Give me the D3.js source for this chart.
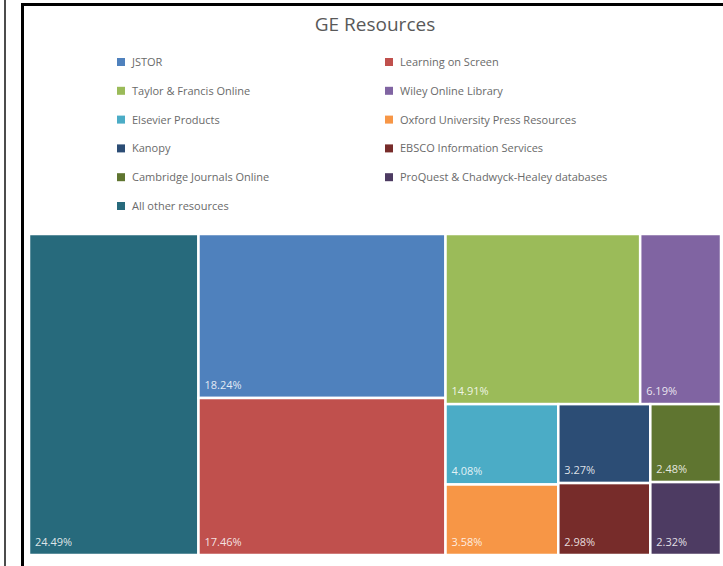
<!DOCTYPE html>
<html lang="en">
<head>
    <meta charset="UTF-8">
    <title>GE Resources</title>
    <style>
        body { margin: 0; background: #fff; }
        text { font-family: "Open Sans", sans-serif; }
    </style>
</head>
<body>
    <div id="chart"></div>
<script src="https://d3js.org/d3.v7.min.js"></script>
<script>
    // legend order (row by row, two columns)
    var categories = [
        "JSTOR", "Learning on Screen",
        "Taylor & Francis Online", "Wiley Online Library",
        "Elsevier Products", "Oxford University Press Resources",
        "Kanopy", "EBSCO Information Services",
        "Cambridge Journals Online", "ProQuest & Chadwyck-Healey databases",
        "All other resources"
    ];
    var shares = [18.24, 17.46, 14.91, 6.19, 4.08, 3.58, 3.27, 2.98, 2.48, 2.32, 24.49];
    var palette = ["#4f81bd", "#c0504d", "#9bbb59", "#8064a2", "#4bacc6", "#f79646",
        "#2c4d75", "#772c2a", "#5f7530", "#4d3b62", "#276a7c"];

    var W = 723, H = 566;
    var svg = d3.select("#chart").append("svg")
        .attr("width", W)
        .attr("height", H);

    // frame lines of the screenshot
    svg.append("line").attr("x1", 5).attr("x2", 5).attr("y1", 0).attr("y2", H)
        .attr("stroke", "#111").attr("stroke-width", 1.5);
    svg.append("line").attr("x1", 22.5).attr("x2", 22.5).attr("y1", 3).attr("y2", H)
        .attr("stroke", "#000").attr("stroke-width", 3);
    svg.append("line").attr("x1", 21).attr("x2", W).attr("y1", 4.5).attr("y2", 4.5)
        .attr("stroke", "#000").attr("stroke-width", 3);

    svg.append("text")
        .text("GE Resources")
        .attr("x", 375)
        .attr("y", 31)
        .attr("text-anchor", "middle")
        .style("font-size", "19px")
        .style("fill", "#595959");

    var color = d3.scaleOrdinal().domain(categories).range(palette);

    // legend
    var legend = svg.append("g");
    var item = legend.selectAll("g")
        .data(categories)
        .enter().append("g")
        .attr("transform", function (d, i) {
            var col = i % 2, row = Math.floor(i / 2);
            return "translate(" + (117 + col * 268) + "," + (62 + row * 28.8) + ")";
        });
    item.append("rect")
        .attr("x", 0).attr("y", -4)
        .attr("width", 8).attr("height", 8)
        .style("fill", function (d) { return color(d); });
    item.append("text")
        .text(function (d) { return d; })
        .attr("x", 15)
        .attr("y", 4)
        .style("font-size", "11px")
        .style("fill", "#6a6a6a");

    // treemap
    var x0 = 29, y0 = 234, tw = 692, th = 321;
    var root = d3.hierarchy({
        children: categories.map(function (c, i) { return { name: c, value: shares[i] }; })
    })
        .sum(function (d) { return d.value; })
        .sort(function (a, b) { return b.value - a.value; });

    d3.treemap()
        .tile(d3.treemapSquarify.ratio(1))
        .size([tw, th])(root);

    var cell = svg.append("g")
        .attr("transform", "translate(" + x0 + "," + y0 + ")")
        .selectAll("g")
        .data(root.leaves())
        .enter().append("g");

    cell.append("rect")
        .attr("x", function (d) { return d.x0; })
        .attr("y", function (d) { return d.y0; })
        .attr("width", function (d) { return d.x1 - d.x0; })
        .attr("height", function (d) { return d.y1 - d.y0; })
        .style("fill", function (d) { return color(d.data.name); })
        .style("stroke", "#fff")
        .style("stroke-width", 2.5);

    var fmt = d3.format(".2f");
    cell.append("text")
        .text(function (d) { return fmt(d.data.value) + "%"; })
        .attr("x", function (d) { return d.x0 + 6; })
        .attr("y", function (d) { return d.y1 - 9; })
        .style("font-size", "11px")
        .style("fill", "#fff")
        .style("fill-opacity", 0.85);
</script>
</body>
</html>
